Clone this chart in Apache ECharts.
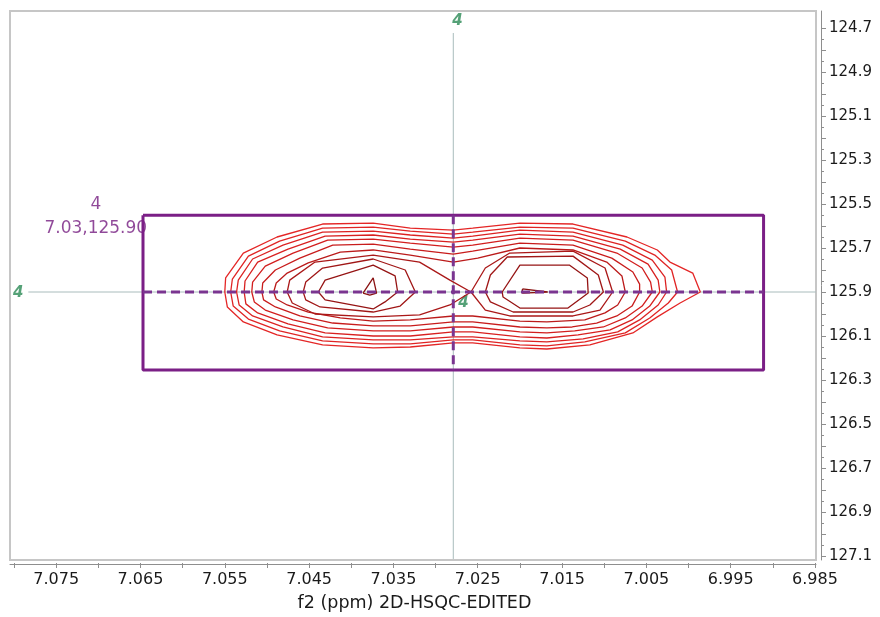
<!DOCTYPE html>
<html>
<head>
<meta charset="utf-8">
<script src="https://cdn.jsdelivr.net/npm/echarts@6/dist/echarts.min.js"></script>
<style>
  html, body { margin: 0; padding: 0; background: #ffffff; }
  #chart { width: 880px; height: 617px; }
</style>
</head>
<body>
<div id="chart"></div>
<script>
// ---- Data (ppm units) ----
const xTickLabels = ['7.075', '7.065', '7.055', '7.045', '7.035', '7.025', '7.015', '7.005', '6.995', '6.985'];
const yTickLabels = ['124.7', '124.9', '125.1', '125.3', '125.5', '125.7', '125.9', '126.1', '126.3', '126.5', '126.7', '126.9', '127.1'];
const xAxisTitle = 'f2 (ppm) 2D-HSQC-EDITED';

// Peak 4 position
const peakX = 7.0279;
const peakY = 125.90;
const peakLabel = '4';
const peakCoordText = '7.03,125.90';

// Integration box (f2 range, f1 range)
const boxX = [7.0647, 6.9911];
const boxY = [125.551, 126.254];

// Thin peak cross-hair extents
const crossVY = [124.7227, 127.1136];
const crossHX = [7.0783, 6.9849];

// Peak label anchor positions [f2, f1]
const peakLabelPos = [[7.0274, 124.670], [7.0795, 125.905], [7.0267, 125.952]];
const integLabelPos = [[7.0703, 125.503], [7.0703, 125.610]];

// Contour levels, outer -> inner: [f2, f1]
const c1 = [[7.0550,125.900],[7.0549,125.836],[7.0528,125.723],[7.0488,125.650],[7.0434,125.591],[7.0374,125.587],[7.0330,125.610],[7.0279,125.619],[7.0256,125.610],[7.0200,125.587],[7.0137,125.591],[7.0073,125.650],[7.0037,125.709],[7.0022,125.764],[6.9995,125.814],[6.9986,125.900],[7.0010,125.950],[7.0037,126.013],[7.0066,126.086],[7.0117,126.140],[7.0168,126.159],[7.0200,126.154],[7.0256,126.131],[7.0279,126.131],[7.0330,126.150],[7.0374,126.154],[7.0434,126.140],[7.0488,126.095],[7.0528,126.036],[7.0547,125.968]];
const c2 = [[7.0543,125.900],[7.0541,125.841],[7.0522,125.737],[7.0485,125.669],[7.0434,125.610],[7.0374,125.605],[7.0330,125.623],[7.0279,125.637],[7.0256,125.628],[7.0200,125.605],[7.0137,125.610],[7.0075,125.669],[7.0040,125.732],[7.0020,125.800],[7.0013,125.900],[7.0024,125.950],[7.0046,126.018],[7.0075,126.086],[7.0123,126.127],[7.0168,126.145],[7.0200,126.140],[7.0256,126.118],[7.0279,126.118],[7.0330,126.136],[7.0374,126.136],[7.0434,126.122],[7.0485,126.077],[7.0522,126.023],[7.0540,125.964]];
const c3 = [[7.0536,125.900],[7.0534,125.846],[7.0517,125.750],[7.0481,125.687],[7.0434,125.628],[7.0374,125.623],[7.0330,125.641],[7.0279,125.655],[7.0256,125.646],[7.0200,125.619],[7.0137,125.628],[7.0078,125.687],[7.0043,125.755],[7.0028,125.832],[7.0026,125.900],[7.0036,125.959],[7.0058,126.027],[7.0084,126.081],[7.0125,126.113],[7.0168,126.127],[7.0200,126.122],[7.0256,126.104],[7.0279,126.104],[7.0330,126.118],[7.0374,126.118],[7.0434,126.104],[7.0481,126.059],[7.0517,126.009],[7.0533,125.959]];
const c4 = [[7.0527,125.900],[7.0526,125.850],[7.0511,125.764],[7.0475,125.705],[7.0431,125.646],[7.0374,125.641],[7.0330,125.660],[7.0279,125.673],[7.0256,125.664],[7.0200,125.637],[7.0137,125.646],[7.0081,125.705],[7.0048,125.773],[7.0036,125.846],[7.0034,125.900],[7.0046,125.964],[7.0067,126.027],[7.0093,126.072],[7.0131,126.095],[7.0168,126.109],[7.0200,126.104],[7.0256,126.081],[7.0279,126.081],[7.0330,126.100],[7.0374,126.100],[7.0431,126.086],[7.0475,126.045],[7.0511,125.995],[7.0525,125.954]];
const c5 = [[7.0518,125.900],[7.0517,125.855],[7.0502,125.782],[7.0469,125.723],[7.0428,125.664],[7.0374,125.660],[7.0330,125.678],[7.0279,125.696],[7.0256,125.687],[7.0200,125.655],[7.0137,125.664],[7.0085,125.723],[7.0055,125.791],[7.0045,125.855],[7.0043,125.900],[7.0055,125.964],[7.0075,126.018],[7.0101,126.059],[7.0135,126.077],[7.0168,126.086],[7.0200,126.081],[7.0256,126.059],[7.0279,126.059],[7.0330,126.077],[7.0374,126.077],[7.0428,126.063],[7.0469,126.027],[7.0502,125.982],[7.0515,125.945]];
const c6 = [[7.0506,125.900],[7.0505,125.859],[7.0490,125.800],[7.0461,125.746],[7.0422,125.687],[7.0374,125.682],[7.0330,125.705],[7.0279,125.728],[7.0256,125.714],[7.0200,125.678],[7.0137,125.687],[7.0091,125.746],[7.0066,125.809],[7.0058,125.864],[7.0058,125.900],[7.0067,125.964],[7.0085,126.009],[7.0109,126.041],[7.0138,126.059],[7.0168,126.063],[7.0200,126.059],[7.0256,126.036],[7.0279,126.036],[7.0330,126.054],[7.0374,126.054],[7.0422,126.041],[7.0461,126.009],[7.0490,125.968],[7.0504,125.936]];
const c7 = [[7.0492,125.900],[7.0489,125.859],[7.0476,125.814],[7.0451,125.768],[7.0413,125.719],[7.0374,125.709],[7.0330,125.732],[7.0279,125.764],[7.0250,125.746],[7.0200,125.700],[7.0137,125.709],[7.0097,125.764],[7.0079,125.827],[7.0075,125.900],[7.0084,125.959],[7.0099,125.995],[7.0123,126.027],[7.0168,126.036],[7.0200,126.032],[7.0256,126.009],[7.0279,126.009],[7.0330,126.027],[7.0374,126.032],[7.0413,126.018],[7.0451,125.991],[7.0476,125.959],[7.0489,125.932]];
const c8a = [[7.0476,125.900],[7.0473,125.846],[7.0443,125.764],[7.0374,125.732],[7.0319,125.764],[7.0283,125.846],[7.0258,125.900],[7.0283,125.959],[7.0319,126.004],[7.0374,126.013],[7.0443,126.000],[7.0470,125.950]];
const c8b = [[7.0258,125.900],[7.0241,125.791],[7.0212,125.723],[7.0137,125.714],[7.0099,125.791],[7.0090,125.900],[7.0105,125.982],[7.0137,126.009],[7.0212,126.009],[7.0241,125.982]];
const c9a = [[7.0457,125.900],[7.0454,125.855],[7.0434,125.791],[7.0374,125.750],[7.0336,125.800],[7.0324,125.900],[7.0342,125.964],[7.0374,125.991],[7.0437,125.968],[7.0454,125.936]];
const c9b = [[7.0241,125.900],[7.0235,125.823],[7.0215,125.741],[7.0137,125.737],[7.0107,125.823],[7.0101,125.900],[7.0117,125.959],[7.0137,125.991],[7.0208,125.991],[7.0235,125.945]];
const c10a = [[7.0439,125.900],[7.0431,125.846],[7.0374,125.778],[7.0348,125.827],[7.0345,125.900],[7.0360,125.945],[7.0374,125.977],[7.0431,125.936]];
const c10b = [[7.0221,125.900],[7.0200,125.778],[7.0141,125.778],[7.0120,125.836],[7.0119,125.905],[7.0143,125.973],[7.0200,125.973],[7.0220,125.923]];
const c11a = [[7.0386,125.905],[7.0374,125.836],[7.0370,125.905],[7.0378,125.914]];
const c11b = [[7.0197,125.886],[7.0167,125.900],[7.0197,125.905]];

const contourList = [c1, c2, c3, c4, c5, c6, c7, c8a, c8b, c9a, c9b, c10a, c10b, c11a, c11b];
const contourColors = ['#e42626', '#e02424', '#dc2222', '#d82020', '#d21e1e', '#c81c1c', '#bb1a1a', '#aa1818', '#aa1818', '#a01616', '#a01616', '#951414', '#951414', '#8a1212', '#8a1212'];

// ---- Chart ----
const FONT = 'Verdana, "DejaVu Sans", sans-serif';
const chart = echarts.init(document.getElementById('chart'), null, { renderer: 'canvas' });

function closed(pts) { return pts.concat([pts[0]]); }

const series = [];
// thin cross-hair (peak marker)
series.push({
  type: 'line', xAxisIndex: 1, yAxisIndex: 1, symbol: 'none', clip: false, silent: true,
  lineStyle: { color: '#a9bcbc', width: 1 },
  data: [[peakX, crossVY[0]], [peakX, crossVY[1]]]
});
series.push({
  type: 'line', xAxisIndex: 1, yAxisIndex: 1, symbol: 'none', clip: false, silent: true,
  lineStyle: { color: '#a9bcbc', width: 1 },
  data: [[crossHX[0], peakY], [crossHX[1], peakY]]
});
// contours
contourList.forEach(function (c, i) {
  series.push({
    type: 'line', xAxisIndex: 1, yAxisIndex: 1, symbol: 'none', clip: false, silent: true,
    lineStyle: { color: contourColors[i], width: 1.3 },
    data: closed(c)
  });
});
// integration box
series.push({
  type: 'line', xAxisIndex: 1, yAxisIndex: 1, symbol: 'none', clip: false, silent: true,
  lineStyle: { color: '#7b1f86', width: 3 },
  data: [[boxX[0], boxY[0]], [boxX[1], boxY[0]], [boxX[1], boxY[1]], [boxX[0], boxY[1]], [boxX[0], boxY[0]]]
});
// dashed cross in box
series.push({
  type: 'line', xAxisIndex: 1, yAxisIndex: 1, symbol: 'none', clip: false, silent: true,
  lineStyle: { color: '#7a3590', width: 3, type: [9, 5] },
  data: [[boxX[0], peakY], [boxX[1], peakY]]
});
series.push({
  type: 'line', xAxisIndex: 1, yAxisIndex: 1, symbol: 'none', clip: false, silent: true,
  lineStyle: { color: '#7a3590', width: 3, type: [9, 5] },
  data: [[peakX, boxY[0]], [peakX, boxY[1]]]
});
// peak labels (green, italic bold)
series.push({
  type: 'scatter', xAxisIndex: 1, yAxisIndex: 1, symbolSize: 0, clip: false, silent: true,
  label: { show: true, position: 'inside', formatter: '{b}', color: '#2a8a55', fontFamily: FONT, fontSize: 15, fontWeight: 'bold', fontStyle: 'italic' },
  data: peakLabelPos.map(function (p) { return { name: peakLabel, value: p }; })
});
// integration labels (purple)
series.push({
  type: 'scatter', xAxisIndex: 1, yAxisIndex: 1, symbolSize: 0, clip: false, silent: true,
  label: { show: true, position: 'inside', formatter: '{b}', color: '#741b7f', fontFamily: FONT, fontSize: 17 },
  data: [
    { name: peakLabel, value: integLabelPos[0] },
    { name: peakCoordText, value: integLabelPos[1] }
  ]
});

const option = {
  backgroundColor: '#ffffff',
  animation: false,
  grid: [
    { left: 10, right: 64, top: 11, bottom: 57, show: true, borderColor: '#c6c6c6', borderWidth: 2, backgroundColor: '#ffffff' },
    { left: 14, right: 65, top: 28, bottom: 60 }
  ],
  xAxis: [
    { gridIndex: 0, type: 'value', min: 0, max: 1, position: 'bottom', offset: 4,
      axisLine: { show: true, onZero: false, lineStyle: { color: '#8e8e8e', width: 1 } },
      axisTick: { show: false }, axisLabel: { show: false }, splitLine: { show: false } },
    { gridIndex: 1, type: 'value', min: 6.985, max: 7.080, interval: 0.005, inverse: true, position: 'bottom', offset: 7,
      name: xAxisTitle, nameLocation: 'middle', nameGap: 31,
      nameTextStyle: { color: '#1a1a1a', fontFamily: FONT, fontSize: 17.5 },
      axisLine: { show: false, onZero: false },
      axisTick: { show: true, length: 5, lineStyle: { color: '#8e8e8e' } },
      axisLabel: { show: true, margin: 9, color: '#1a1a1a', fontFamily: FONT, fontSize: 16,
        formatter: function (v) { const s = v.toFixed(3); return xTickLabels.indexOf(s) >= 0 ? s : ''; } },
      splitLine: { show: false } }
  ],
  yAxis: [
    { gridIndex: 0, type: 'value', min: 0, max: 1, position: 'right', offset: 5,
      axisLine: { show: true, onZero: false, lineStyle: { color: '#8e8e8e', width: 1 } },
      axisTick: { show: false }, axisLabel: { show: false }, splitLine: { show: false } },
    { gridIndex: 1, type: 'value', min: 124.7, max: 127.1, interval: 0.1, inverse: true, position: 'right', offset: 6,
      axisLine: { show: false, onZero: false },
      axisTick: { show: true, length: 5, lineStyle: { color: '#8e8e8e' } },
      minorTick: { show: true, splitNumber: 2, length: 3, lineStyle: { color: '#8e8e8e' } },
      axisLabel: { show: true, margin: 8, color: '#1a1a1a', fontFamily: FONT, fontSize: 15,
        formatter: function (v) { const s = v.toFixed(1); return yTickLabels.indexOf(s) >= 0 ? s : ''; } },
      splitLine: { show: false } }
  ],
  series: series
};
chart.setOption(option);
</script>
</body>
</html>
